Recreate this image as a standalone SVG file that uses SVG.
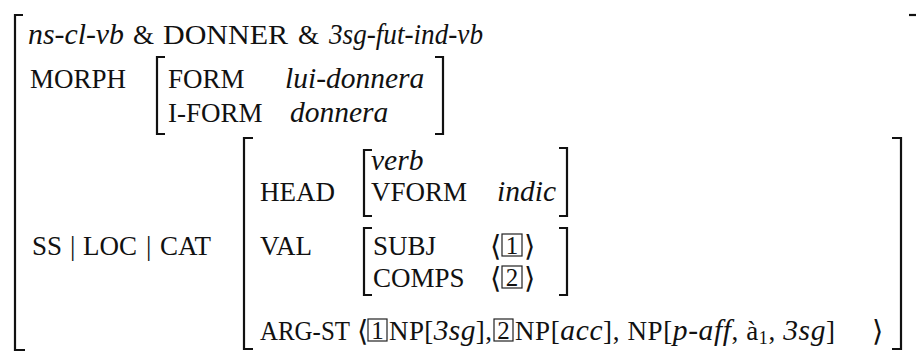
<svg xmlns="http://www.w3.org/2000/svg" width="916" height="354" viewBox="0 0 916 354">
<style>
text{font-family:'Liberation Serif','Times New Roman','DejaVu Serif',serif;font-size:27px;fill:#111}
.i{font-style:italic;font-size:29.5px}
.br{fill:none;stroke:#111;stroke-width:2.2}
.box{fill:none;stroke:#222;stroke-width:1.2}
.num{text-anchor:middle;font-size:25px}
.ab{font-family:'DejaVu Serif','DejaVu Sans',serif;font-size:29px}
</style>
<rect width="916" height="354" fill="#fff"/>
<g id="brackets">
<path class="br" d="M23,15 H15 V350 H25"/>
<path class="br" d="M909,15 H916"/>
<path class="br" d="M165,57 H157 V134 H165"/>
<path class="br" d="M435,57 H443 V134 H435"/>
<path class="br" d="M253,138 H244 V349 H253"/>
<path class="br" d="M892,138 H901 V349 H892"/>
<path class="br" d="M372,150 H364 V216 H372"/>
<path class="br" d="M559,148 H567 V216 H559"/>
<path class="br" d="M372,228 H364 V295 H372"/>
<path class="br" d="M559,228 H567 V295 H559"/>
</g>
<g id="type">
<text class="i" x="28" y="44" textLength="96" lengthAdjust="spacingAndGlyphs">ns-cl-vb</text>
<text x="133" y="44">&amp;</text>
<text x="163" y="44" textLength="125" lengthAdjust="spacingAndGlyphs">DONNER</text>
<text x="298" y="44">&amp;</text>
<text class="i" x="329" y="44" textLength="154" lengthAdjust="spacingAndGlyphs">3sg-fut-ind-vb</text>
</g>
<g id="morph">
<text x="30" y="88">MORPH</text>
<text x="168" y="88">FORM</text>
<text class="i" x="285" y="88">lui-donnera</text>
<text x="168" y="122">I-FORM</text>
<text class="i" x="290" y="122">donnera</text>
</g>
<g id="cat">
<text x="32" y="255">SS</text>
<text x="70" y="255">|</text>
<text x="83" y="255">LOC</text>
<text x="146" y="255">|</text>
<text x="160" y="255">CAT</text>
</g>
<g id="head">
<text x="260" y="201">HEAD</text>
<text class="i" x="371" y="170">verb</text>
<text x="371" y="201">VFORM</text>
<text class="i" x="497" y="201">indic</text>
</g>
<g id="val">
<text x="260" y="255">VAL</text>
<text x="373" y="255">SUBJ</text>
<text class="ab" x="490" y="256">⟨</text>
<rect class="box" x="502" y="234" width="20" height="22"/>
<text class="num" x="512" y="254">1</text>
<text class="ab" x="524" y="256">⟩</text>
<text x="373" y="287">COMPS</text>
<text class="ab" x="490" y="288">⟨</text>
<rect class="box" x="502" y="266" width="20" height="22"/>
<text class="num" x="512" y="286">2</text>
<text class="ab" x="524" y="288">⟩</text>
</g>
<g id="argst">
<text x="260" y="340" textLength="90" lengthAdjust="spacingAndGlyphs">ARG-ST</text>
<text class="ab" x="357" y="341">⟨</text>
<rect class="box" x="368" y="319" width="19" height="22"/>
<text class="num" x="377.5" y="339">1</text>
<text x="389" y="340" textLength="103" lengthAdjust="spacing">NP[<tspan class="i">3sg</tspan>],</text>
<rect class="box" x="494" y="319" width="19" height="22"/>
<text class="num" x="503.5" y="339">2</text>
<text x="515" y="340" textLength="320" lengthAdjust="spacing">NP[<tspan class="i">acc</tspan>], NP[<tspan class="i">p-aff</tspan>, à<tspan font-size="18" dy="4">1</tspan><tspan dy="-4">, </tspan><tspan class="i">3sg</tspan>]</text>
<text class="ab" x="872" y="341">⟩</text>
</g>
</svg>
